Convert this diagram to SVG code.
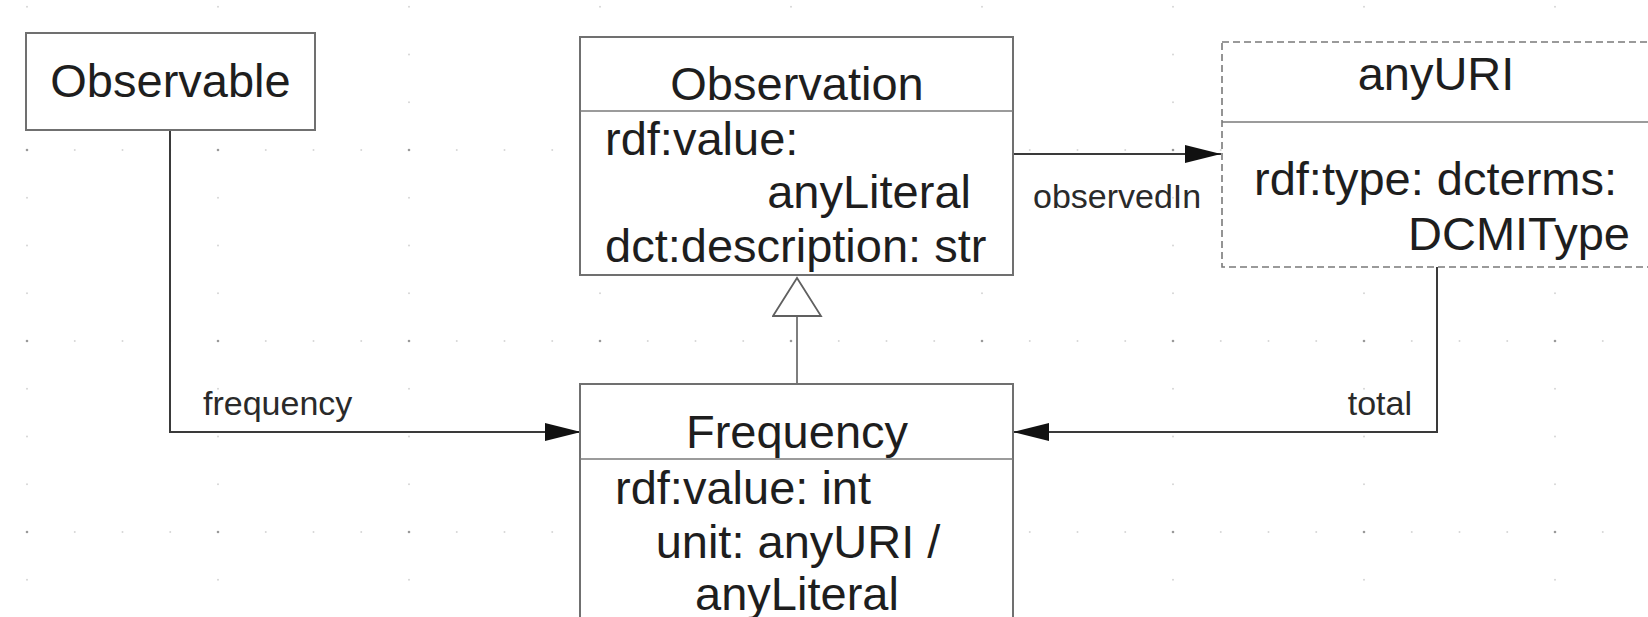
<svg xmlns="http://www.w3.org/2000/svg" width="1648" height="617" viewBox="0 0 1648 617">
<style>
.box{fill:#ffffff;stroke:#707070;stroke-width:2}
.dashed{fill:#ffffff;stroke:#7a7a7a;stroke-width:1.6;stroke-dasharray:7 4}
.div{stroke:#7a7a7a;stroke-width:1.6;fill:none}
.t{font-family:"Liberation Sans",Arial,sans-serif;font-size:47px;fill:#1e1e1e}
.lbl{font-family:"Liberation Sans",Arial,sans-serif;font-size:34px;fill:#2a2a2a}
.conn{fill:none;stroke:#3a3a3a;stroke-width:2}
.gen{fill:none;stroke:#707070;stroke-width:1.8}
</style>
<defs>
<marker id="arrow" markerUnits="userSpaceOnUse" markerWidth="38" markerHeight="20" refX="36" refY="9" orient="auto">
<path d="M0,0 L36,9 L0,18 Z" fill="#111111"/>
</marker>
<marker id="hollow" markerUnits="userSpaceOnUse" markerWidth="42" markerHeight="52" refX="39" refY="25" orient="auto">
<path d="M1,1 L39,25 L1,49 Z" fill="#ffffff" stroke="#606060" stroke-width="1.8"/>
</marker>
<pattern id="grid" patternUnits="userSpaceOnUse" x="17" y="331" width="191" height="191">
<circle cx="10" cy="10" r="1.3" fill="#9a9a9a"/>
<circle cx="57.75" cy="10" r="1" fill="#d6d6d6"/>
<circle cx="105.5" cy="10" r="1" fill="#d6d6d6"/>
<circle cx="153.25" cy="10" r="1" fill="#d6d6d6"/>
<circle cx="10" cy="57.75" r="1" fill="#d6d6d6"/>
<circle cx="10" cy="105.5" r="1" fill="#d6d6d6"/>
<circle cx="10" cy="153.25" r="1" fill="#d6d6d6"/>
</pattern>
</defs>
<rect x="0" y="0" width="1648" height="617" fill="#ffffff"/>
<rect x="0" y="0" width="1648" height="617" fill="url(#grid)"/>

<g id="connectors">
<path class="conn" d="M170,130 L170,432 L581,432" marker-end="url(#arrow)"/>
<path class="conn" d="M1013,154 L1221,154" marker-end="url(#arrow)"/>
<path class="conn" d="M1437,267 L1437,432 L1013,432" marker-end="url(#arrow)"/>
<path class="gen" d="M797,384 L797,278" marker-end="url(#hollow)"/>
<text class="lbl" x="203" y="415">frequency</text>
<text class="lbl" x="1033" y="208">observedIn</text>
<text class="lbl" x="1412" y="415" text-anchor="end">total</text>
</g>

<g id="observable">
<rect class="box" x="26" y="33" width="289" height="97"/>
<text class="t" x="170.5" y="97" text-anchor="middle">Observable</text>
</g>

<g id="observation">
<rect class="box" x="580" y="37" width="433" height="238"/>
<line class="div" x1="580" y1="111" x2="1013" y2="111"/>
<text class="t" x="797" y="100" text-anchor="middle">Observation</text>
<text class="t" x="605" y="155">rdf:value:</text>
<text class="t" x="971" y="208" text-anchor="end">anyLiteral</text>
<text class="t" x="605" y="262">dct:description: str</text>
</g>

<g id="anyURI">
<rect class="dashed" x="1222" y="42" width="428" height="225"/>
<line class="div" x1="1222" y1="122" x2="1650" y2="122"/>
<text class="t" x="1436" y="90" text-anchor="middle">anyURI</text>
<text class="t" x="1254" y="195">rdf:type: dcterms:</text>
<text class="t" x="1630" y="250" text-anchor="end">DCMIType</text>
</g>

<g id="frequency">
<rect class="box" x="580" y="384" width="433" height="260"/>
<line class="div" x1="580" y1="459" x2="1013" y2="459"/>
<text class="t" x="797" y="448" text-anchor="middle">Frequency</text>
<text class="t" x="615" y="504">rdf:value: int</text>
<text class="t" x="798" y="558" text-anchor="middle">unit: anyURI /</text>
<text class="t" x="797" y="610" text-anchor="middle">anyLiteral</text>
</g>
</svg>
